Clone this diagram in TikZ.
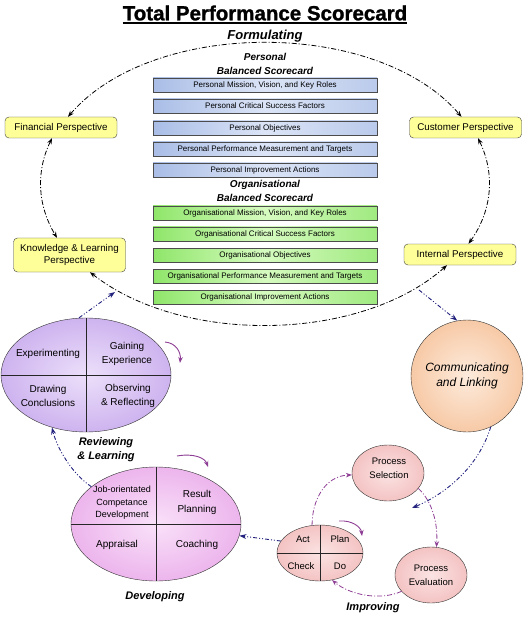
\documentclass[tikz,border=0pt]{standalone}
\usepackage{fontspec}
\setmainfont{Liberation Sans}
\newfontfamily\heavyfont[FakeBold=1.2]{Liberation Sans}
\usetikzlibrary{shapes.geometric,arrows.meta,calc}
\definecolor{persyellow}{HTML}{FFFF99}
\definecolor{blueA}{HTML}{A9BDE6}
\definecolor{blueB}{HTML}{DCE5F7}
\definecolor{greenA}{HTML}{8FE66A}
\definecolor{greenB}{HTML}{D6FBC0}
\definecolor{revOut}{HTML}{B088E4}
\definecolor{revIn}{HTML}{ECDFFA}
\definecolor{devOut}{HTML}{E08AE0}
\definecolor{devIn}{HTML}{F9E1F9}
\definecolor{comOut}{HTML}{F1A871}
\definecolor{comIn}{HTML}{FDEBDC}
\definecolor{proOut}{HTML}{EDA3A3}
\definecolor{proIn}{HTML}{FBE3E3}
\definecolor{navyline}{HTML}{23237F}
\definecolor{purpline}{HTML}{8E3E95}
\pgfdeclareradialshading{revsh}{\pgfpointorigin}{color(0bp)=(revIn); color(50bp)=(revOut); color(100bp)=(revOut)}
\pgfdeclareradialshading{devsh}{\pgfpointorigin}{color(0bp)=(devIn); color(50bp)=(devOut); color(100bp)=(devOut)}
\pgfdeclareradialshading{comsh}{\pgfpointorigin}{color(0bp)=(comIn); color(50bp)=(comOut); color(100bp)=(comOut)}
\pgfdeclareradialshading{prosh}{\pgfpointorigin}{color(0bp)=(proIn); color(50bp)=(proOut); color(100bp)=(proOut)}
\begin{document}
\begin{tikzpicture}[x=1pt,y=-1pt,
  persp/.style={draw=black!75, fill=persyellow, rounded corners=4pt, minimum width=112pt,
    minimum height=21pt, inner sep=1pt, align=center, font=\fontsize{9.8}{12.5}\selectfont},
  pbar/.style={draw=black!70, left color=blueA, right color=blueA!80!white, middle color=blueB,
    minimum width=224pt, minimum height=14pt, inner sep=0pt, font=\fontsize{8}{9}\selectfont},
  obar/.style={draw=black!70, left color=greenA, right color=greenA!85!white, middle color=greenB,
    minimum width=224pt, minimum height=14pt, inner sep=0pt, font=\fontsize{8}{9}\selectfont},
  heading/.style={font=\bfseries\itshape\fontsize{10}{14}\selectfont, align=center},
  phase/.style={font=\bfseries\itshape\fontsize{11}{14}\selectfont, align=center},
  bigell/.style={ellipse, draw=black!80, inner sep=0pt},
  qtext/.style={font=\fontsize{10}{14}\selectfont, align=center, inner sep=0pt},
  stext/.style={font=\fontsize{9.5}{14}\selectfont, align=center, inner sep=0pt},
  cyc/.style={black, line width=0.8pt, dash pattern=on 5pt off 2pt on 1pt off 2pt,
    {Stealth[length=6pt,width=4.5pt]}-{Stealth[length=6pt,width=4.5pt]}},
  navy/.style={navyline, line width=0.9pt, dash pattern=on 4pt off 2pt on 1pt off 2pt on 1pt off 2pt,
    -{Stealth[length=7pt,width=5pt]}},
  purp/.style={purpline, line width=0.8pt, dash pattern=on 5pt off 2pt on 1pt off 2pt,
    -{Stealth[length=6pt,width=4.5pt]}},
  turn/.style={purpline, line width=0.9pt, -{Stealth[length=6pt,width=4.5pt]}}
]
\useasboundingbox (0,0) rectangle (530,617);
\fill[white] (0,0) rectangle (530,617);

% title
\node[font=\heavyfont\bfseries\fontsize{20.5}{22}\selectfont, inner sep=0pt] (title) at (265,13) {Total Performance Scorecard};
\draw[line width=1.8pt] ([yshift=-2pt]title.south west) -- ([yshift=-2pt]title.south east);
\node[font=\bfseries\itshape\fontsize{13}{15}\selectfont, inner sep=0pt] (form) at (265,36) {Formulating};

% perspectives
\node[persp] (fin) at (61,127.5) {Financial Perspective};
\node[persp] (cust) at (465.5,127.5) {Customer Perspective};
\node[persp, minimum height=34pt] (know) at (69.5,255) {Knowledge \& Learning\\Perspective};
\node[persp] (intp) at (460,254.5) {Internal Perspective};

% personal scorecard
\node[heading] (phead) at (265,64) {Personal\\Balanced Scorecard};
\node[pbar] (p1) at (265,85) {Personal Mission, Vision, and Key Roles};
\node[pbar] (p2) at (265,106) {Personal Critical Success Factors};
\node[pbar] (p3) at (265,128) {Personal Objectives};
\node[pbar] (p4) at (265,149) {Personal Performance Measurement and Targets};
\node[pbar] (p5) at (265,170) {Personal Improvement Actions};
\node[heading] (ohead) at (265,191) {Organisational\\Balanced Scorecard};
\node[obar] (o1) at (265,213) {Organisational Mission, Vision, and Key Roles};
\node[obar] (o2) at (265,234) {Organisational Critical Success Factors};
\node[obar] (o3) at (265,255) {Organisational Objectives};
\node[obar] (o4) at (265,276) {Organisational Performance Measurement and Targets};
\node[obar] (o5) at (265,297) {Organisational Improvement Actions};

% formulating cycle
\draw[cyc] ([xshift=7pt]fin.north) .. controls (152.7,18.4) and (377.3,18.4) .. ([xshift=-4pt]cust.north);
\draw[cyc] ([xshift=-9pt]fin.south) .. controls (35.8,171.4) and (37.4,205.3) .. ([xshift=-12.5pt]know.north);
\draw[cyc] ([xshift=12.5pt]cust.south) .. controls (495.4,173.8) and (492.1,210.7) .. ([xshift=8.5pt]intp.north);
\draw[cyc] ([xshift=20.5pt]know.south) .. controls (182.7,345) and (360.4,342.2) .. ([xshift=-13pt]intp.south);

% reviewing ellipse
\node[bigell, shading=revsh, minimum width=170pt, minimum height=114pt] (rev) at (86,375) {};
\draw[black!85, line width=0.7pt] (rev.north) -- (rev.south) (rev.west) -- (rev.east);
\node[qtext] (r1) at (48,354) {Experimenting};
\node[qtext] (r2) at (127,354) {Gaining\\Experience};
\node[qtext] (r3) at (48,396) {Drawing\\Conclusions};
\node[qtext] (r4) at (128,396) {Observing\\\& Reflecting};
\node[phase] (revlab) at (106,450) {Reviewing\\\& Learning};

% developing ellipse
\node[bigell, shading=devsh, minimum width=170pt, minimum height=114pt] (dev) at (156,524) {};
\draw[black!85, line width=0.7pt] (dev.north) -- (dev.south) (dev.west) -- (dev.east);
\node[font=\fontsize{9}{12.5}\selectfont, align=center, inner sep=0pt] (d1) at (122,503) {Job-orientated\\Competance\\Development};
\node[qtext, font=\fontsize{10}{15}\selectfont] (d2) at (197,502.5) {Result\\Planning};
\node[qtext] (d3) at (117,545) {Appraisal};
\node[qtext] (d4) at (197,545) {Coaching};
\node[phase] (devlab) at (155,597) {Developing};

% communicating circle
\node[circle, draw=black!80, shading=comsh, minimum size=112pt, inner sep=0pt,
  font=\itshape\fontsize{12}{14.5}\selectfont, align=center] (com) at (467,376) {Communicating\\and Linking};

% improving
\node[ellipse, draw=black!80, shading=prosh, minimum width=72pt, minimum height=56pt, inner sep=0pt] (ps) at (388,473) {};
\node[stext] (pstext) at (389,468) {Process\\Selection};
\node[ellipse, draw=black!80, shading=prosh, minimum width=72pt, minimum height=56pt, inner sep=0pt, stext] (pe) at (431,575) {Process\\Evaluation};
\node[ellipse, draw=black!80, shading=prosh, minimum width=86pt, minimum height=56pt, inner sep=0pt] (pdca) at (320,553) {};
\draw[black!85, line width=0.7pt] (pdca.north) -- (pdca.south) (pdca.west) -- (pdca.east);
\node[stext] (act) at (303,539) {Act};
\node[stext] (plan) at (340,539) {Plan};
\node[stext] (check) at (301,566) {Check};
\node[stext] (do) at (340,566) {Do};
\node[phase] (implab) at (373,608) {Improving};

% navy links
\coordinate (eL) at (115,292);
\coordinate (eR) at (419,290);
\coordinate (mid) at (412,508);
\draw[navy] ([xshift=-7pt]rev.north) -- (eL);
\draw[navy] (eR) -- (com.100);
\draw[navy] (com.295) .. controls (478,468) and (445,494) .. (mid);
\draw[navy] (pdca.163) -- (dev.352);
\draw[navy] (dev.150) .. controls (72,474) and (57,448) .. (rev.237);

% purple process links
\draw[purp] (pdca.106) .. controls (312,500) and (325,476) .. (ps.183);
\draw[purp] (ps.333) .. controls (433,502) and (438,525) .. (pe.79);
\draw[purp] (pe.209) .. controls (380,601) and (350,595) .. (pdca.294);

% turning arrows
\coordinate (t1a) at (165,342); \coordinate (t1b) at (180,363);
\coordinate (t2a) at (177,456); \coordinate (t2b) at (208,467);
\coordinate (t3a) at (339,521); \coordinate (t3b) at (362,536);
\draw[turn] (t1a) .. controls (176,343) and (181,352) .. (t1b);
\draw[turn] (t2a) .. controls (194,453) and (205,458) .. (t2b);
\draw[turn] (t3a) .. controls (352,520) and (361,527) .. (t3b);
\end{tikzpicture}
\end{document}
